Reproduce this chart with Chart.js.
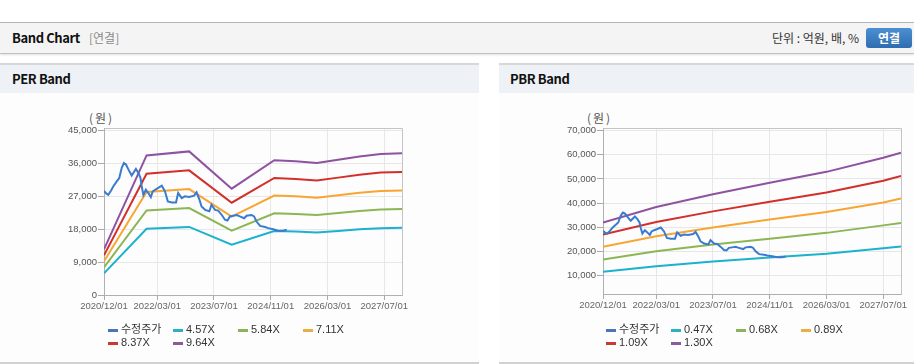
<!DOCTYPE html>
<html><head><meta charset="utf-8">
<script src="https://cdn.jsdelivr.net/npm/chart.js@4/dist/chart.umd.min.js"></script>
<style>
html,body{margin:0;padding:0;background:#fff;width:914px;height:364px;overflow:hidden;font-family:"Liberation Sans","Noto Sans CJK KR",sans-serif;}
.abs{position:absolute;white-space:nowrap;}
#hdr{position:absolute;left:0;top:22px;width:914px;height:30px;border-top:1px solid #b5b5b5;border-bottom:1px solid #c2c2c2;background:#f4f4f4;box-shadow:0 1px 2px rgba(0,0,0,0.12);}
.ttl{font-family:"Noto Sans CJK KR",sans-serif;font-weight:bold;font-size:13px;letter-spacing:-0.4px;color:#111;}
.panel{position:absolute;top:63px;height:297px;border-top:2px solid #d7d7d7;border-bottom:2px solid #d2d2d2;background:#fdfdfd;}
.phead{position:absolute;left:0;top:0;right:0;height:28px;background:#eef1f6;}
.unit{font-family:"Noto Sans CJK KR",sans-serif;font-size:12px;color:#555;letter-spacing:2px;}
.lg{font-size:11px;color:#333;line-height:13px;}
.sw{position:absolute;width:10px;height:3px;}
#btn{position:absolute;left:866px;top:28px;width:46px;height:20px;border-radius:3px;background:linear-gradient(#4b8fd3,#2f6db0);color:#fff;font-family:"Noto Sans CJK KR",sans-serif;font-weight:bold;font-size:12px;text-align:center;line-height:20px;}
canvas{position:absolute;}
</style></head>
<body>
<div id="hdr">
  <span class="abs ttl" style="left:12px;top:5px;line-height:20px;">Band Chart</span>
  <span class="abs" style="left:89px;top:5px;line-height:20px;font-family:'Noto Sans CJK KR',sans-serif;font-size:12px;color:#8a8a8a;">[연결]</span>
  <span class="abs" style="right:55px;top:5px;line-height:20px;font-family:'Noto Sans CJK KR',sans-serif;font-size:12px;color:#333;">단위 : 억원, 배, %</span>
</div>
<div id="btn">연결</div>

<div class="panel" style="left:0;width:479px;"><div class="phead"><span class="abs ttl" style="left:12px;top:4px;line-height:20px;">PER Band</span></div></div>
<div class="panel" style="left:499px;width:415px;"><div class="phead"><span class="abs ttl" style="left:11px;top:4px;line-height:20px;">PBR Band</span></div></div>

<span class="abs unit" style="left:89px;top:110px;line-height:16px;">(원)</span>
<span class="abs unit" style="left:587px;top:110px;line-height:16px;">(원)</span>

<canvas id="per" width="479" height="232" style="left:0;top:93px;"></canvas>
<canvas id="pbr" width="415" height="232" style="left:499px;top:93px;"></canvas>
<div id="legends"></div>

<script>
// ---------- data ----------
const xTickDates = ['2020/12/01','2022/03/01','2023/07/01','2024/11/01','2026/03/01','2027/07/01'];
const xStart = '2020/12/01';
const xEnd = '2027/12/01';

const priceDates = ['2020/12/01','2020/12/19','2021/01/07','2021/02/01','2021/02/19','2021/03/19','2021/04/10','2021/05/01','2021/05/19','2021/06/07','2021/06/28','2021/07/25','2021/09/01','2021/09/22','2021/10/10','2021/10/19','2021/11/04','2021/11/25','2021/12/16','2022/01/07','2022/01/22','2022/02/13','2022/03/10','2022/04/10','2022/05/07','2022/06/01','2022/07/04','2022/08/10','2022/08/28','2022/09/28','2022/10/25','2022/12/01','2023/01/13','2023/02/04','2023/02/28','2023/03/16','2023/04/16','2023/05/22','2023/06/10','2023/07/10','2023/08/07','2023/09/07','2023/10/04','2023/10/25','2023/11/16','2023/12/13','2024/01/13','2024/02/10','2024/03/16','2024/04/07','2024/05/19','2024/06/10','2024/07/01','2024/08/01','2024/09/13','2024/10/10','2024/11/22','2025/01/04','2025/02/16','2025/03/16'];
const priceValues = [28500,27800,27400,28600,29700,31100,32000,34800,36100,35700,34300,32700,34500,33400,32000,29900,27400,28800,27900,26800,28300,28800,29300,29900,28300,25600,25300,25300,27900,26500,27000,26800,27200,28100,26100,24200,23300,22900,24700,23300,23100,21900,20600,20400,21500,21700,21900,21500,21000,21700,21900,21500,20100,18900,18600,18300,18000,17600,17600,17900];

const perBandDates = ['2020/12/01','2021/12/01','2022/12/01','2023/12/01','2024/12/01','2025/06/01','2025/12/01','2026/06/01','2026/12/01','2027/06/01','2027/12/01'];
const per457 = [5930,18110,18630,13790,17490,17350,17110,17540,17960,18300,18390];
const per584 = [7580,23150,23810,17630,22360,22180,21880,22420,22970,23390,23510];
const per711 = [9220,28180,28990,21460,27220,27000,26630,27290,27960,28470,28620];
const per837 = [10850,33160,34110,25260,32030,31770,31330,32120,32900,33500,33680];
const per964 = [12500,38200,39300,29100,36900,36600,36100,37000,37900,38600,38800];
const perYTicks = [0,9000,18000,27000,36000,45000];

const pbrBandDates = ['2020/12/01','2022/03/01','2023/07/01','2024/11/01','2026/03/01','2027/07/01','2027/12/01'];
const pbr047 = [11600,13900,15800,17500,19100,21300,22100];
const pbr068 = [16700,20100,22900,25300,27700,30800,31800];
const pbr089 = [21900,26300,29900,33200,36300,40300,41900];
const pbr109 = [27000,32200,36600,40600,44400,49300,51200];
const pbr130 = [32000,38400,43700,48400,52950,58800,60900];
const pbrYTicks = [10000,20000,30000,40000,50000,60000,70000];

const perNames = ['수정주가','4.57X','5.84X','7.11X','8.37X','9.64X'];
const pbrNames = ['수정주가','0.47X','0.68X','0.89X','1.09X','1.30X'];
const lineColors = ['#3a7bd0','#1ab2cc','#8bb653','#f8a531','#d32f2a','#8f52a1'];
const legendColors = ['#4a75b8','#2bb0c4','#8fb35a','#e9ae48','#c83a32','#8c5a9c'];

// ---------- helpers ----------
const toMonth = s => { const [y,m,d] = s.split('/').map(Number); return (y-2020)*12 + (m-12) + (d-1)/30; };
const pts = (dates, vals) => dates.map((d,i)=>({x:toMonth(d), y:vals[i]}));
const xTicks = xTickDates.map(toMonth);

function hasFont(name){
  const c = document.createElement('canvas').getContext('2d');
  const t = '2020/12/01 45,000';
  c.font = '20px monospace'; const a = c.measureText(t).width;
  c.font = '20px "'+name+'", monospace'; const b = c.measureText(t).width;
  return Math.abs(a-b) > 0.5;
}
const narrow = hasFont('Liberation Sans Narrow');
const tickFont = narrow ? {family:'"Liberation Sans Narrow"', size:11} : {family:'"Liberation Sans"', size:9.5};

const framePlugin = {
  id:'frame',
  beforeDatasetsDraw(chart){
    const {ctx, chartArea:a} = chart;
    ctx.save(); ctx.strokeStyle = '#c4c4c4'; ctx.lineWidth = 1;
    ctx.beginPath();
    ctx.moveTo(Math.round(a.left)+0.5, Math.round(a.top)+0.5);
    ctx.lineTo(Math.round(a.right)+0.5, Math.round(a.top)+0.5);
    ctx.lineTo(Math.round(a.right)+0.5, Math.round(a.bottom)+0.5);
    ctx.stroke(); ctx.restore();
  }
};

function makeChart(id, names, bandDates, bands, yMin, yMax, yTicks, padRight, xH){
  const datasets = [{label:names[0], data:pts(priceDates, priceValues), borderColor:lineColors[0]}];
  bands.forEach((b,i)=>datasets.push({label:names[i+1], data:pts(bandDates,b), borderColor:lineColors[i+1]}));
  datasets.forEach(d=>{ d.borderWidth=2; d.pointRadius=0; d.tension=0; d.fill=false; });
  new Chart(document.getElementById(id), {
    type:'line',
    data:{datasets},
    options:{
      responsive:false, animation:false, devicePixelRatio:1,
      layout:{padding:{top:35,right:padRight,bottom:0,left:0}},
      plugins:{legend:{display:false}, tooltip:{enabled:false}},
      scales:{
        x:{type:'linear', min:0, max:toMonth(xEnd),
           afterBuildTicks:s=>{ s.ticks = xTicks.map(v=>({value:v})); },
           afterFit:s=>{ s.height = xH; },
           ticks:{autoSkip:false, maxRotation:0, padding:1, color:'#666', font:tickFont,
                  callback:(v)=>{ const i = xTicks.indexOf(v); return i>=0 ? xTickDates[i] : ''; }},
           grid:{color:'#e7e7e7', tickLength:5, tickColor:'#aaa'},
           border:{color:'#b0b0b0'}},
        y:{type:'linear', min:yMin, max:yMax,
           afterBuildTicks:s=>{ s.ticks = yTicks.map(v=>({value:v})); },
           afterFit:s=>{ s.width = 104; },
           ticks:{padding:1, color:'#555', font:tickFont, callback:v=>v.toLocaleString('en-US')},
           grid:{color:'#e7e7e7', tickLength:6, tickColor:'#aaa'},
           border:{color:'#b0b0b0'}}
      }
    },
    plugins:[framePlugin]
  });
}

makeChart('per', perNames, perBandDates, [per457,per584,per711,per837,per964], 0, 45700, perYTicks, 77, 30);
makeChart('pbr', pbrNames, pbrBandDates, [pbr047,pbr068,pbr089,pbr109,pbr130], 2400, 71100, pbrYTicks, 13, 31);

// ---------- HTML legends ----------
function legend(names, x0){
  const box = document.getElementById('legends');
  names.forEach((n,i)=>{
    const row = i<4 ? 0 : 1, col = i<4 ? i : i-4;
    const cx = x0 + col*65, cy = row ? 343 : 330;
    const sw = document.createElement('div');
    sw.className='sw'; sw.style.left=cx+'px'; sw.style.top=(cy-1)+'px'; sw.style.background=legendColors[i];
    box.appendChild(sw);
    const t = document.createElement('span');
    t.className='abs lg'; t.style.left=(cx+13)+'px'; t.style.top=(cy-7)+'px'; t.textContent=n;
    box.appendChild(t);
  });
}
legend(perNames, 108);
legend(pbrNames, 606);
</script>
</body></html>
